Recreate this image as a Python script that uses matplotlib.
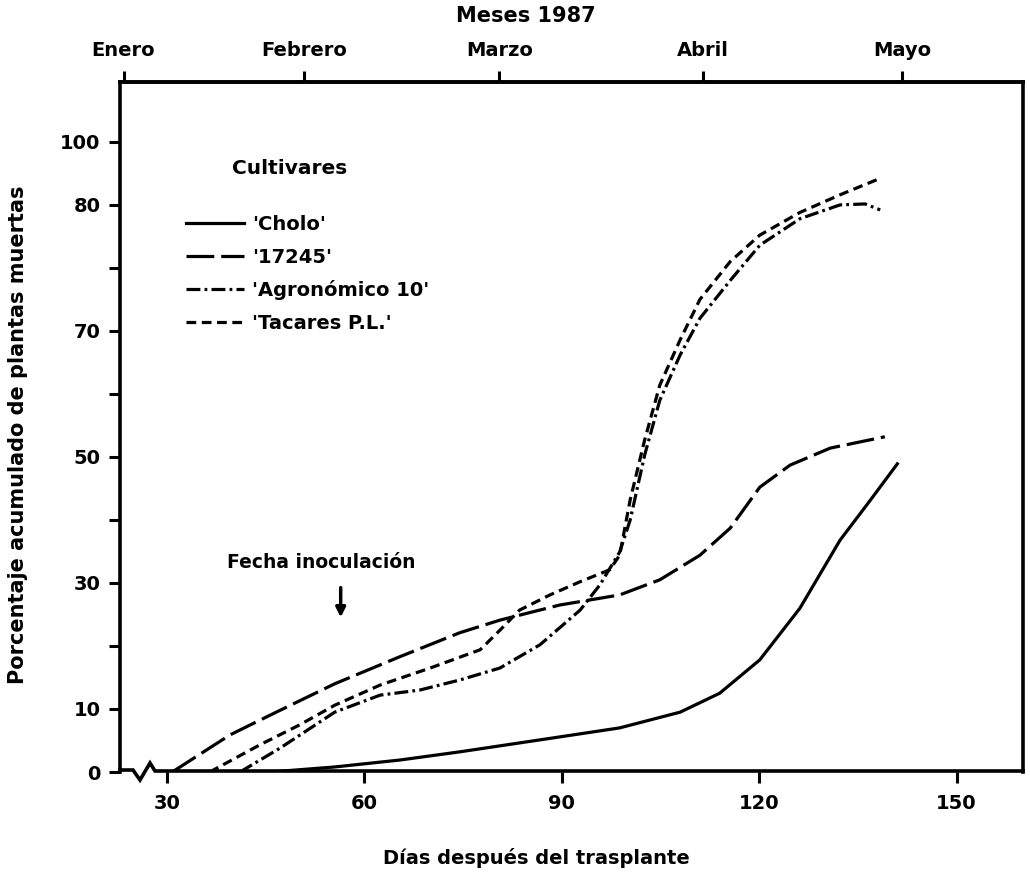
import numpy as np
import matplotlib
matplotlib.use("Agg")
import matplotlib.pyplot as plt

# days after transplant / cumulative % of dead plants
cholo_x = [45.7, 55.5, 65.4, 74.5, 86.7, 98.8, 108.0, 114.0, 120.1, 126.2, 132.3, 136.8, 141.0]
cholo_y = [0.0, 0.8, 1.9, 3.2, 5.1, 7.0, 9.5, 12.5, 17.8, 26.0, 36.8, 43.0, 48.9]

c17245_x = [30.8, 39.6, 47.2, 55.5, 65.4, 74.5, 80.6, 89.7, 98.8, 104.9, 111.0, 115.6, 120.1, 124.7, 130.8, 136.8, 139.1]
c17245_y = [0.0, 5.9, 9.8, 14.0, 18.3, 22.1, 24.1, 26.5, 28.1, 30.5, 34.4, 38.7, 45.2, 48.7, 51.4, 52.7, 53.2]

agro_x = [41.1, 47.2, 55.5, 62.4, 68.4, 74.5, 80.6, 86.7, 92.8, 95.8, 98.8, 100.4, 102.6, 104.9, 108.0, 111.0, 115.6, 120.1, 126.2, 132.3, 136.1, 138.4]
agro_y = [0.0, 3.8, 9.5, 12.2, 13.0, 14.6, 16.5, 20.2, 25.7, 29.7, 34.9, 40.0, 50.3, 59.0, 66.2, 71.0, 74.0, 76.8, 78.9, 80.0, 80.3, 79.6]

tacares_x = [36.5, 44.1, 50.2, 55.5, 62.4, 70.0, 77.6, 80.6, 83.6, 88.2, 92.8, 97.3, 98.8, 100.4, 102.6, 104.9, 108.0, 111.0, 115.6, 120.1, 126.2, 132.3, 137.9]
tacares_y = [0.0, 4.3, 7.5, 10.6, 13.8, 16.5, 19.4, 22.5, 25.7, 28.1, 30.2, 32.1, 34.4, 43.2, 52.7, 61.4, 68.6, 72.5, 75.5, 77.6, 79.4, 83.2, 88.0]

x_ticks = [30, 60, 90, 120, 150]
y_ticks = [0, 10, 20, 30, 40, 50, 60, 70, 75, 80, 100]
y_labels = ['0', '10', '', '30', '', '50', '', '70', '', '80', '100']
month_days = [23.4, 50.8, 80.5, 111.5, 141.7]
month_names = ['Enero', 'Febrero', 'Marzo', 'Abril', 'Mayo']
inoc_day = 56.4

# the printed y axis is not linear
pct_knots = [0, 70, 80, 100, 140]
pos_knots = [0, 7, 9, 10, 12]


def fwd(v):
    return np.interp(v, pct_knots, pos_knots)


def inv(v):
    return np.interp(v, pos_knots, pct_knots)


plt.rcParams['font.family'] = 'DejaVu Sans'
plt.rcParams['font.weight'] = 'bold'
plt.rcParams['lines.scale_dashes'] = False

fig = plt.figure(figsize=(10.30, 8.72), dpi=100)
ax = fig.add_axes([120/1030, 100/872, 903/1030, 690/872])
ax.set_yscale('function', functions=(fwd, inv))

lw = 2.3
h1, = ax.plot(cholo_x, cholo_y, color='k', lw=lw, ls='-')
h2, = ax.plot(c17245_x, c17245_y, color='k', lw=lw, ls=(0, (20, 5)))
h3, = ax.plot(agro_x, agro_y, color='k', lw=lw, ls=(0, (10, 3, 2, 3)))
h4, = ax.plot(tacares_x, tacares_y, color='k', lw=lw, ls=(0, (7, 4)))

ax.set_xlim(22.86, 160.1)
ax.set_ylim(0, 119)

ax.set_xticks(x_ticks)
ax.set_yticks(y_ticks)
ax.set_yticklabels(y_labels)
ax.tick_params(axis='both', direction='out', length=8, width=2.2, labelsize=14, pad=8)
ax.tick_params(axis='y', pad=6)
ax.minorticks_off()

for s in ['left', 'right', 'top']:
    ax.spines[s].set_linewidth(2.6)
ax.spines['bottom'].set_visible(False)

# bottom line with axis break
bx = np.array([120, 133, 140, 150, 155, 1023])
by = np.array([770, 770, 780, 763, 771, 771])
ax.plot((bx - 120) / 903, (772 - by) / 690, color='k', lw=2.6,
        transform=ax.transAxes, clip_on=False, solid_joinstyle='miter')

sec = ax.secondary_xaxis('top')
sec.set_xticks(month_days)
sec.set_xticklabels(month_names)
sec.tick_params(direction='out', length=8, width=2.2, labelsize=14, pad=8)
sec.spines['top'].set_linewidth(2.6)

fig.text(526/1030, 1 - 16/872, 'Meses 1987', ha='center', va='center', fontsize=15)
fig.text(536/1030, 1 - 858/872, 'Días después del trasplante', ha='center', va='center', fontsize=14)
fig.text(18/1030, 1 - 435/872, 'Porcentaje acumulado de plantas muertas', ha='center', va='center',
         rotation=90, fontsize=15)

fig.text(232/1030, 1 - 168/872, 'Cultivares', ha='left', va='center', fontsize=14.5)
ax.legend([h1, h2, h3, h4], ["'Cholo'", "'17245'", "'Agronómico 10'", "'Tacares P.L.'"],
          loc='upper left', bbox_to_anchor=(186/1030, 1 - 215/872), bbox_transform=fig.transFigure,
          frameon=False, fontsize=14, handlelength=3.0, handletextpad=0.4, labelspacing=0.7,
          borderpad=0, borderaxespad=0)

ax.annotate('', xy=(inoc_day, 24.1), xytext=(inoc_day, 29.7),
            arrowprops=dict(arrowstyle='-|>', lw=2.5, color='k', mutation_scale=14))
ax.text(53.5, 33.2, 'Fecha inoculación', ha='center', va='center', fontsize=13.5)

fig.savefig('out.png', dpi=100)
